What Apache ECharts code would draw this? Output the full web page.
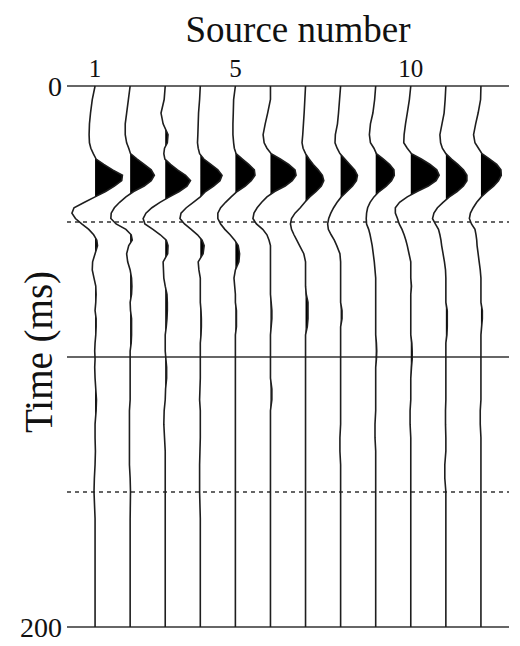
<!DOCTYPE html>
<html>
<head>
<meta charset="utf-8">
<script src="https://cdn.jsdelivr.net/npm/echarts@6/dist/echarts.min.js"></script>
<style>
html,body{margin:0;padding:0;background:#fff;}
#chart{width:520px;height:646px;}
</style>
</head>
<body>
<div id="chart"></div>
<script>
// Time samples (ms)
const TIME = [0,5,10,14,18,21,23,25,27,29,31,33,35,37,39,41,43,45,47,49,51,53,55,57,59,62,65,68,71,74,77,80,83,86,89,92,95,98,101,104,108,112,116,120,125,130,135,140,145,150,160,170,180,190,200];

// Trace amplitudes (in units of trace spacing), one value per time sample
const TRACE_1 = [0,-0.08,-0.13,-0.16,-0.17,-0.16,-0.12,-0.05,0.03,0.25,
  0.5,0.78,0.76,0.55,0.3,0.0,-0.3,-0.6,-0.66,-0.56,
  -0.38,-0.18,-0.04,0.05,0.07,0.0,-0.07,-0.08,-0.03,0.02,
  0.03,0.02,0.0,0.03,0.03,0.02,0.0,-0.01,0.0,-0.01,
  0.0,0.02,0.04,0.03,0.0,0.0,0.01,0.0,-0.02,-0.03,
  0,0,0,0,0];
const TRACE_2 = [0,-0.05,-0.1,-0.14,-0.14,-0.1,-0.04,0.01,0.2,0.4,
  0.6,0.69,0.6,0.4,0.1,-0.12,-0.3,-0.45,-0.54,-0.55,
  -0.4,-0.12,0.03,0.06,-0.04,-0.1,-0.07,0.0,0.04,0.05,
  0.04,0.0,0.01,0.04,0.04,0.04,0.03,0.0,0,0,
  0,0,0,-0.02,-0.02,-0.02,-0.02,-0.02,0.0,0.01,
  0,0,0,0,0];
const TRACE_3 = [0,-0.03,-0.12,-0.06,0.08,0.06,-0.02,-0.04,-0.01,0.15,
  0.35,0.58,0.72,0.62,0.4,0.12,-0.15,-0.38,-0.55,-0.63,
  -0.58,-0.35,-0.14,0.03,0.08,0.07,-0.06,-0.05,-0.04,0.0,
  0.05,0.06,0.06,0.05,0.03,0.0,0.0,0.0,0.02,0.04,
  0.04,0.01,0.0,-0.03,-0.04,-0.02,0.0,0.0,0.0,0.0,
  0,0,0,0,0];
const TRACE_4 = [0,-0.02,-0.05,-0.06,-0.07,-0.08,-0.06,-0.02,0.1,0.3,
  0.5,0.62,0.56,0.38,0.15,0.0,-0.2,-0.4,-0.55,-0.58,
  -0.45,-0.26,-0.08,0.05,0.11,0.08,-0.06,-0.04,0.0,0.0,
  0.0,0.0,0.02,0.03,0.03,0.02,0.0,0.0,0,0,
  0,-0.01,-0.02,0.0,0.0,0.0,-0.01,-0.02,-0.02,-0.02,
  0,0,0,0,0];
const TRACE_5 = [0,-0.05,-0.06,-0.07,-0.07,-0.05,-0.03,0.02,0.2,0.38,
  0.54,0.56,0.45,0.28,0.05,-0.12,-0.28,-0.42,-0.5,-0.5,
  -0.42,-0.3,-0.15,-0.02,0.08,0.12,0.1,0.0,-0.04,-0.02,
  0.0,0.0,0.03,0.03,0.03,0.0,0.0,0,0,0,
  0,0,0,0,0,0,0,0,0,0,
  0,0,0,0,0];
const TRACE_6 = [0,0.0,-0.08,-0.15,-0.21,-0.18,-0.1,0.02,0.28,0.52,
  0.7,0.73,0.62,0.42,0.12,-0.1,-0.25,-0.38,-0.47,-0.5,
  -0.4,-0.22,-0.1,-0.04,0.0,0.0,0.0,0.0,0.0,0.0,
  0.0,0.02,0.04,0.04,0.02,0.0,0,0,0,0,
  0,0.04,0.04,0.0,0,0,0,0,0,0,
  0,0,0,0,0];
const TRACE_7 = [0,-0.02,-0.04,-0.06,-0.08,-0.1,-0.07,0.0,0.1,0.22,
  0.36,0.48,0.52,0.45,0.3,0.12,-0.02,-0.15,-0.3,-0.4,
  -0.43,-0.4,-0.33,-0.25,-0.17,-0.05,0.0,0.0,0.0,0.0,
  0.02,0.07,0.07,0.07,0.05,0.0,0,0,0,0,
  0,0,0,0,0,0,0,0,0,0,
  0,0,0,0,0];
const TRACE_8 = [0,-0.03,-0.06,-0.09,-0.15,-0.16,-0.1,-0.02,0.12,0.26,
  0.4,0.48,0.45,0.34,0.18,0.02,-0.1,-0.2,-0.28,-0.34,
  -0.37,-0.35,-0.27,-0.18,-0.11,-0.02,0.0,0.0,0.0,0.0,
  0.0,0.0,0.04,0.04,0.0,0,0,0,0,0,
  0,0,0,0,0,-0.02,-0.02,0,0,0,
  0,0,0,0,0];
const TRACE_9 = [0,-0.03,-0.08,-0.15,-0.18,-0.15,-0.05,0.02,0.22,0.4,
  0.52,0.53,0.45,0.3,0.1,-0.05,-0.16,-0.23,-0.26,-0.27,
  -0.26,-0.2,-0.16,-0.13,-0.1,-0.07,-0.04,-0.02,0.0,0.0,
  0,0,0,0,0,0,0.02,0.03,0.02,0.0,
  0,0,0,0,-0.02,-0.02,0,0,0,0,
  0,0,0,0,0];
const TRACE_10 = [0,-0.04,-0.1,-0.15,-0.19,-0.2,-0.1,0.02,0.3,0.55,
  0.74,0.81,0.72,0.5,0.18,-0.1,-0.32,-0.44,-0.44,-0.38,
  -0.33,-0.25,-0.19,-0.14,-0.1,-0.05,0.0,0.0,0.0,0.02,
  0,0,0,0,0,0,0.03,0.04,0.04,0.02,
  0,0,0,-0.02,-0.02,0,0,0,0,0,
  0,0,0,0,0];
const TRACE_11 = [0,-0.02,-0.05,-0.11,-0.17,-0.15,-0.1,0.0,0.16,0.34,
  0.5,0.6,0.6,0.5,0.32,0.1,-0.08,-0.24,-0.34,-0.38,
  -0.3,-0.21,-0.17,-0.14,-0.12,-0.08,-0.04,-0.01,0.0,0.0,
  0,0,0.04,0.04,0.04,0.03,0,0,0,0,
  0,0,0,-0.01,-0.01,0,0,-0.03,-0.03,0,
  0,0,0,0,0];
const TRACE_12 = [0,-0.01,-0.08,-0.15,-0.21,-0.17,-0.07,0.03,0.25,0.45,
  0.57,0.58,0.5,0.36,0.18,0.01,-0.12,-0.22,-0.3,-0.33,
  -0.27,-0.17,-0.14,-0.12,-0.11,-0.08,-0.05,-0.02,0.0,0.0,
  0,0,0.04,0.04,0.02,0,0,0,0,0,
  0,0,0,-0.02,-0.02,0,0,0,0,0,
  0,0,0,0,0];

const SOURCES = [1,2,3,4,5,6,7,8,9,10,11,12];
const TRACES = [TRACE_1,TRACE_2,TRACE_3,TRACE_4,TRACE_5,TRACE_6,TRACE_7,TRACE_8,TRACE_9,TRACE_10,TRACE_11,TRACE_12];
const SOURCE_TICKS = [1,5,10];
const TIME_TICKS = [0,200];
const DASHED_TIMES = [50,150];

const SERIF = 'Liberation Serif';

function renderTrace(params, api) {
  const n = api.value(0);
  const a = TRACES[n - 1];
  const last = TIME.length - 1;
  const line = [];
  const fill = [api.coord([n, TIME[0]])];
  for (let k = 0; k <= last; k++) {
    line.push(api.coord([n + a[k], TIME[k]]));
    fill.push(api.coord([n + Math.max(a[k], 0), TIME[k]]));
    if (k < last) {
      const p = a[k] > 0, q = a[k + 1] > 0;
      if (p !== q && a[k] !== a[k + 1]) {
        const tc = TIME[k] + (TIME[k + 1] - TIME[k]) * a[k] / (a[k] - a[k + 1]);
        fill.push(api.coord([n, tc]));
      }
    }
  }
  fill.push(api.coord([n, TIME[last]]));
  return {
    type: 'group',
    children: [
      { type: 'polygon', shape: { points: fill }, style: { fill: '#000', stroke: null } },
      { type: 'polyline', shape: { points: line }, style: { stroke: '#1e1e1e', lineWidth: 1.6, fill: null } }
    ]
  };
}

const chart = echarts.init(document.getElementById('chart'), null, { renderer: 'svg' });
chart.setOption({
  backgroundColor: '#fff',
  animation: false,
  grid: { left: 67, right: 11, top: 86, bottom: 19 },
  xAxis: {
    type: 'value', position: 'top', min: 0.2, max: 12.8,
    axisLine: { show: false }, axisTick: { show: false }, splitLine: { show: false },
    axisLabel: { customValues: SOURCE_TICKS, fontFamily: SERIF, fontSize: 25, color: '#111', margin: 5 }
  },
  yAxis: {
    type: 'value', inverse: true, min: 0, max: 200, interval: 100,
    axisLine: { show: false }, axisTick: { show: false },
    splitLine: { show: true, lineStyle: { color: '#333', width: 1.5, type: 'solid' } },
    axisLabel: { customValues: TIME_TICKS, fontFamily: SERIF, fontSize: 28, color: '#111', margin: 5 }
  },
  graphic: [
    { type: 'text', x: 298, y: 29, style: { text: 'Source number', fontFamily: SERIF, fontSize: 37, fill: '#111', align: 'center', verticalAlign: 'middle' } },
    { type: 'text', x: 38, y: 352, rotation: Math.PI / 2, style: { text: 'Time (ms)', fontFamily: SERIF, fontSize: 39, fill: '#111', align: 'center', verticalAlign: 'middle' } }
  ],
  series: [
    {
      type: 'line', data: [], silent: true, symbol: 'none',
      markLine: {
        silent: true, symbol: ['none', 'none'], label: { show: false },
        lineStyle: { color: '#333', width: 1.5, type: [4, 4] },
        data: DASHED_TIMES.map(v => ({ yAxis: v }))
      }
    },
    {
      type: 'custom', renderItem: renderTrace, z: 5,
      encode: { x: 0, y: 1 },
      data: SOURCES.map(s => [s, 0])
    }
  ]
});
</script>
</body>
</html>
